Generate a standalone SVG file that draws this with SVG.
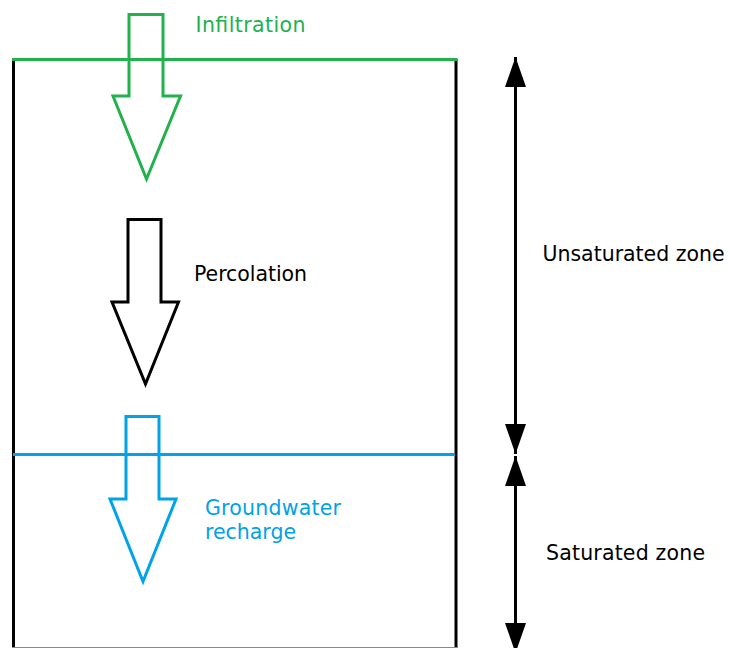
<svg xmlns="http://www.w3.org/2000/svg" width="730" height="648" viewBox="0 0 730 648">
  <style>
    .lbl { font-family: "DejaVu Sans", Verdana, sans-serif; font-size: 20.5px; }
    .arrow { fill: none; stroke-width: 3; stroke-linejoin: miter; }
    .green { stroke: #22B14C; }
    .blue { stroke: #00A2E8; }
    .black { stroke: #000000; }
    .dim { stroke: #000000; stroke-width: 3; fill: none; }
  </style>
  <defs>
    <marker id="head" markerUnits="userSpaceOnUse" markerWidth="31" markerHeight="22" refX="30" refY="10.5" orient="auto-start-reverse" viewBox="0 0 31 22">
      <path d="M0,0 L30,10.5 L0,21 Z" fill="#000000"/>
    </marker>
  </defs>
  <rect x="0" y="0" width="730" height="648" fill="#ffffff"/>

  <g id="soil-column">
    <line x1="13.5" y1="59" x2="13.5" y2="648" class="dim"/>
    <line x1="456" y1="59" x2="456" y2="648" class="dim"/>
    <line x1="12" y1="647.5" x2="457.5" y2="647.5" stroke="#888888" stroke-width="1"/>
  </g>

  <g id="ground-surface">
    <line x1="12" y1="59.5" x2="457.5" y2="59.5" stroke="#22B14C" stroke-width="3"/>
  </g>

  <g id="water-table">
    <line x1="13" y1="454.5" x2="455" y2="454.5" stroke="#00A2E8" stroke-width="3"/>
  </g>

  <g id="infiltration">
    <polygon class="arrow green" points="129,14.5 163,14.5 163,96 180.5,96 146.5,179 113,96 129,96"/>
    <text class="lbl" x="195.5" y="32" fill="#22B14C" textLength="110" lengthAdjust="spacing">Infiltration</text>
  </g>

  <g id="percolation">
    <polygon class="arrow black" points="128,219.5 161,219.5 161,302 178.5,302 145.5,384 112,302 128,302"/>
    <text class="lbl" x="194" y="281" fill="#000000" textLength="113" lengthAdjust="spacing">Percolation</text>
  </g>

  <g id="groundwater-recharge">
    <polygon class="arrow blue" points="126,416.5 159,416.5 159,499 176,499 143,581.5 110,499 126,499"/>
    <text class="lbl" x="205" y="515" fill="#00A2E8" textLength="136" lengthAdjust="spacing">Groundwater</text>
    <text class="lbl" x="205" y="539" fill="#00A2E8" textLength="91" lengthAdjust="spacing">recharge</text>
  </g>

  <g id="unsaturated-zone">
    <text class="lbl" x="542.5" y="261" fill="#000000" textLength="182" lengthAdjust="spacing">Unsaturated zone</text>
  </g>

  <g id="saturated-zone">
    <text class="lbl" x="546" y="560" fill="#000000" textLength="159" lengthAdjust="spacing">Saturated zone</text>
  </g>

  <g id="connectors">
    <line x1="515.5" y1="57" x2="515.5" y2="454" class="dim" marker-start="url(#head)" marker-end="url(#head)"/>
    <line x1="515.5" y1="456" x2="515.5" y2="653" class="dim" marker-start="url(#head)" marker-end="url(#head)"/>
  </g>
</svg>
